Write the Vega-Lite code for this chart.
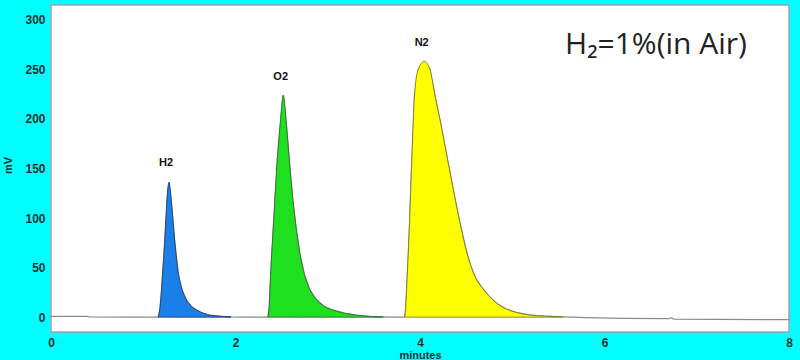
{
  "$schema": "https://vega.github.io/schema/vega-lite/v6.json",
  "autosize": {"type": "none"},
  "padding": {"left": 51, "top": 5, "right": 11, "bottom": 28},
  "width": 738,
  "height": 327,
  "background": "#00FFFF",
  "view": {"fill": "#FFFFFF", "stroke": "#9aa6b0", "strokeWidth": 1.5},
  "config": {"font": "Liberation Sans"},
  "datasets": {
    "signal": [
      {"t": 0, "mV": 0.8, "peak": "base"},
      {"t": 0.38, "mV": 0.8, "peak": "base"},
      {"t": 0.42, "mV": 0.2, "peak": "base"},
      {"t": 0.8, "mV": 0, "peak": "base"},
      {"t": 1.16, "mV": 0, "peak": "H2"},
      {"t": 1.18, "mV": 8, "peak": "H2"},
      {"t": 1.2, "mV": 30, "peak": "H2"},
      {"t": 1.21, "mV": 44, "peak": "H2"},
      {"t": 1.23, "mV": 72, "peak": "H2"},
      {"t": 1.25, "mV": 106, "peak": "H2"},
      {"t": 1.265, "mV": 128, "peak": "H2"},
      {"t": 1.28, "mV": 136, "peak": "H2"},
      {"t": 1.29, "mV": 130, "peak": "H2"},
      {"t": 1.31, "mV": 111, "peak": "H2"},
      {"t": 1.34, "mV": 78, "peak": "H2"},
      {"t": 1.38, "mV": 44, "peak": "H2"},
      {"t": 1.42, "mV": 28, "peak": "H2"},
      {"t": 1.47, "mV": 17, "peak": "H2"},
      {"t": 1.52, "mV": 11, "peak": "H2"},
      {"t": 1.58, "mV": 7, "peak": "H2"},
      {"t": 1.65, "mV": 4, "peak": "H2"},
      {"t": 1.72, "mV": 2, "peak": "H2"},
      {"t": 1.85, "mV": 0.8, "peak": "H2"},
      {"t": 1.95, "mV": 0.3, "peak": "H2"},
      {"t": 2.1, "mV": 0.1, "peak": "base"},
      {"t": 2.35, "mV": 0, "peak": "O2"},
      {"t": 2.365, "mV": 10, "peak": "O2"},
      {"t": 2.38, "mV": 41, "peak": "O2"},
      {"t": 2.41, "mV": 91, "peak": "O2"},
      {"t": 2.453, "mV": 159, "peak": "O2"},
      {"t": 2.482, "mV": 192, "peak": "O2"},
      {"t": 2.518, "mV": 224, "peak": "O2"},
      {"t": 2.554, "mV": 192, "peak": "O2"},
      {"t": 2.583, "mV": 159, "peak": "O2"},
      {"t": 2.62, "mV": 120, "peak": "O2"},
      {"t": 2.656, "mV": 91, "peak": "O2"},
      {"t": 2.7, "mV": 63, "peak": "O2"},
      {"t": 2.753, "mV": 41, "peak": "O2"},
      {"t": 2.81, "mV": 27, "peak": "O2"},
      {"t": 2.88, "mV": 17.5, "peak": "O2"},
      {"t": 2.96, "mV": 11, "peak": "O2"},
      {"t": 3.06, "mV": 7, "peak": "O2"},
      {"t": 3.18, "mV": 4, "peak": "O2"},
      {"t": 3.31, "mV": 2, "peak": "O2"},
      {"t": 3.45, "mV": 0.8, "peak": "O2"},
      {"t": 3.6, "mV": 0.3, "peak": "O2"},
      {"t": 3.7, "mV": 0.1, "peak": "base"},
      {"t": 3.835, "mV": 0, "peak": "N2"},
      {"t": 3.845, "mV": 10, "peak": "N2"},
      {"t": 3.86, "mV": 38, "peak": "N2"},
      {"t": 3.884, "mV": 88, "peak": "N2"},
      {"t": 3.91, "mV": 155, "peak": "N2"},
      {"t": 3.94, "mV": 223, "peak": "N2"},
      {"t": 3.98, "mV": 250, "peak": "N2"},
      {"t": 4.047, "mV": 258, "peak": "N2"},
      {"t": 4.108, "mV": 250, "peak": "N2"},
      {"t": 4.163, "mV": 223, "peak": "N2"},
      {"t": 4.217, "mV": 199, "peak": "N2"},
      {"t": 4.26, "mV": 178, "peak": "N2"},
      {"t": 4.307, "mV": 155, "peak": "N2"},
      {"t": 4.35, "mV": 134, "peak": "N2"},
      {"t": 4.4, "mV": 110, "peak": "N2"},
      {"t": 4.45, "mV": 88, "peak": "N2"},
      {"t": 4.5, "mV": 68, "peak": "N2"},
      {"t": 4.55, "mV": 52, "peak": "N2"},
      {"t": 4.6, "mV": 40, "peak": "N2"},
      {"t": 4.67, "mV": 30, "peak": "N2"},
      {"t": 4.75, "mV": 21, "peak": "N2"},
      {"t": 4.83, "mV": 14, "peak": "N2"},
      {"t": 4.94, "mV": 8, "peak": "N2"},
      {"t": 5.05, "mV": 4.5, "peak": "N2"},
      {"t": 5.2, "mV": 2, "peak": "N2"},
      {"t": 5.35, "mV": 1, "peak": "N2"},
      {"t": 5.55, "mV": 0.3, "peak": "N2"},
      {"t": 5.8, "mV": -0.5, "peak": "base"},
      {"t": 6.2, "mV": -1.2, "peak": "base"},
      {"t": 6.7, "mV": -1.6, "peak": "base"},
      {"t": 6.72, "mV": -0.6, "peak": "base"},
      {"t": 6.75, "mV": -2, "peak": "base"},
      {"t": 7.2, "mV": -2.2, "peak": "base"},
      {"t": 8, "mV": -2.6, "peak": "base"}
    ],
    "labels": [
      {"label": "H2", "t": 1.247, "mV": 155.7},
      {"label": "O2", "t": 2.49, "mV": 242.8},
      {"label": "N2", "t": 4.018, "mV": 276.5}
    ],
    "note": [
      {"text": "H₂=1%(in Air)", "t": 5.572, "mV": 274.6}
    ]
  },
  "encoding": {
    "x": {
      "field": "t", "type": "quantitative",
      "scale": {"domain": [0, 8], "nice": false},
      "axis": {
        "title": "minutes", "values": [0, 2, 4, 6, 8], "grid": false, "domain": false, "ticks": false,
        "labelPadding": 5, "labelFont": "Liberation Sans", "labelFontWeight": "bold", "labelFontSize": 12,
        "labelColor": "#1f2f2f", "labelFlush": false,
        "titleFont": "Liberation Sans", "titleFontWeight": "bold", "titleFontSize": 11, "titleColor": "#1f2f2f",
        "titleY": 23, "titleBaseline": "middle"
      }
    },
    "y": {
      "field": "mV", "type": "quantitative",
      "scale": {"domain": [-15, 315], "nice": false, "zero": false},
      "axis": {
        "title": "mV", "values": [0, 50, 100, 150, 200, 250, 300], "grid": false, "domain": false, "ticks": false,
        "labelPadding": 6, "labelFont": "Liberation Sans", "labelFontWeight": "bold", "labelFontSize": 12,
        "labelColor": "#1f2f2f",
        "titleFont": "Liberation Sans", "titleFontWeight": "bold", "titleFontSize": 11, "titleColor": "#1f2f2f",
        "titleX": -43, "titleY": 160, "titleBaseline": "middle", "titleAlign": "center", "titleAngle": -90
      }
    }
  },
  "layer": [
    {
      "data": {"name": "signal"},
      "mark": {"type": "line", "color": "#8a8a8a", "strokeWidth": 1.2},
      "encoding": {}
    },
    {
      "data": {"name": "signal"},
      "transform": [{"filter": "datum.peak !== 'base'"}],
      "mark": {"type": "area", "strokeWidth": 0.9, "interpolate": "monotone"},
      "encoding": {
        "y2": {"datum": 0},
        "fill": {
          "field": "peak", "type": "nominal", "legend": null,
          "scale": {"domain": ["H2", "O2", "N2"], "range": ["#1a7fe8", "#1fe01f", "#ffff00"]}
        },
        "stroke": {
          "field": "peak", "type": "nominal", "legend": null,
          "scale": {"domain": ["H2", "O2", "N2"], "range": ["#24406e", "#3a6a3a", "#7d7a2a"]}
        },
        "fillOpacity": {"value": 1}
      }
    },
    {
      "data": {"name": "labels"},
      "mark": {"type": "text", "font": "Liberation Sans", "fontWeight": "bold", "fontSize": 11, "color": "#111111", "align": "center", "baseline": "middle"},
      "encoding": {"text": {"field": "label"}}
    },
    {
      "data": {"name": "note"},
      "mark": {"type": "text", "font": "Open Sans", "fontSize": 30, "color": "#222222", "align": "left", "baseline": "middle"},
      "encoding": {"text": {"field": "text"}}
    }
  ]
}
